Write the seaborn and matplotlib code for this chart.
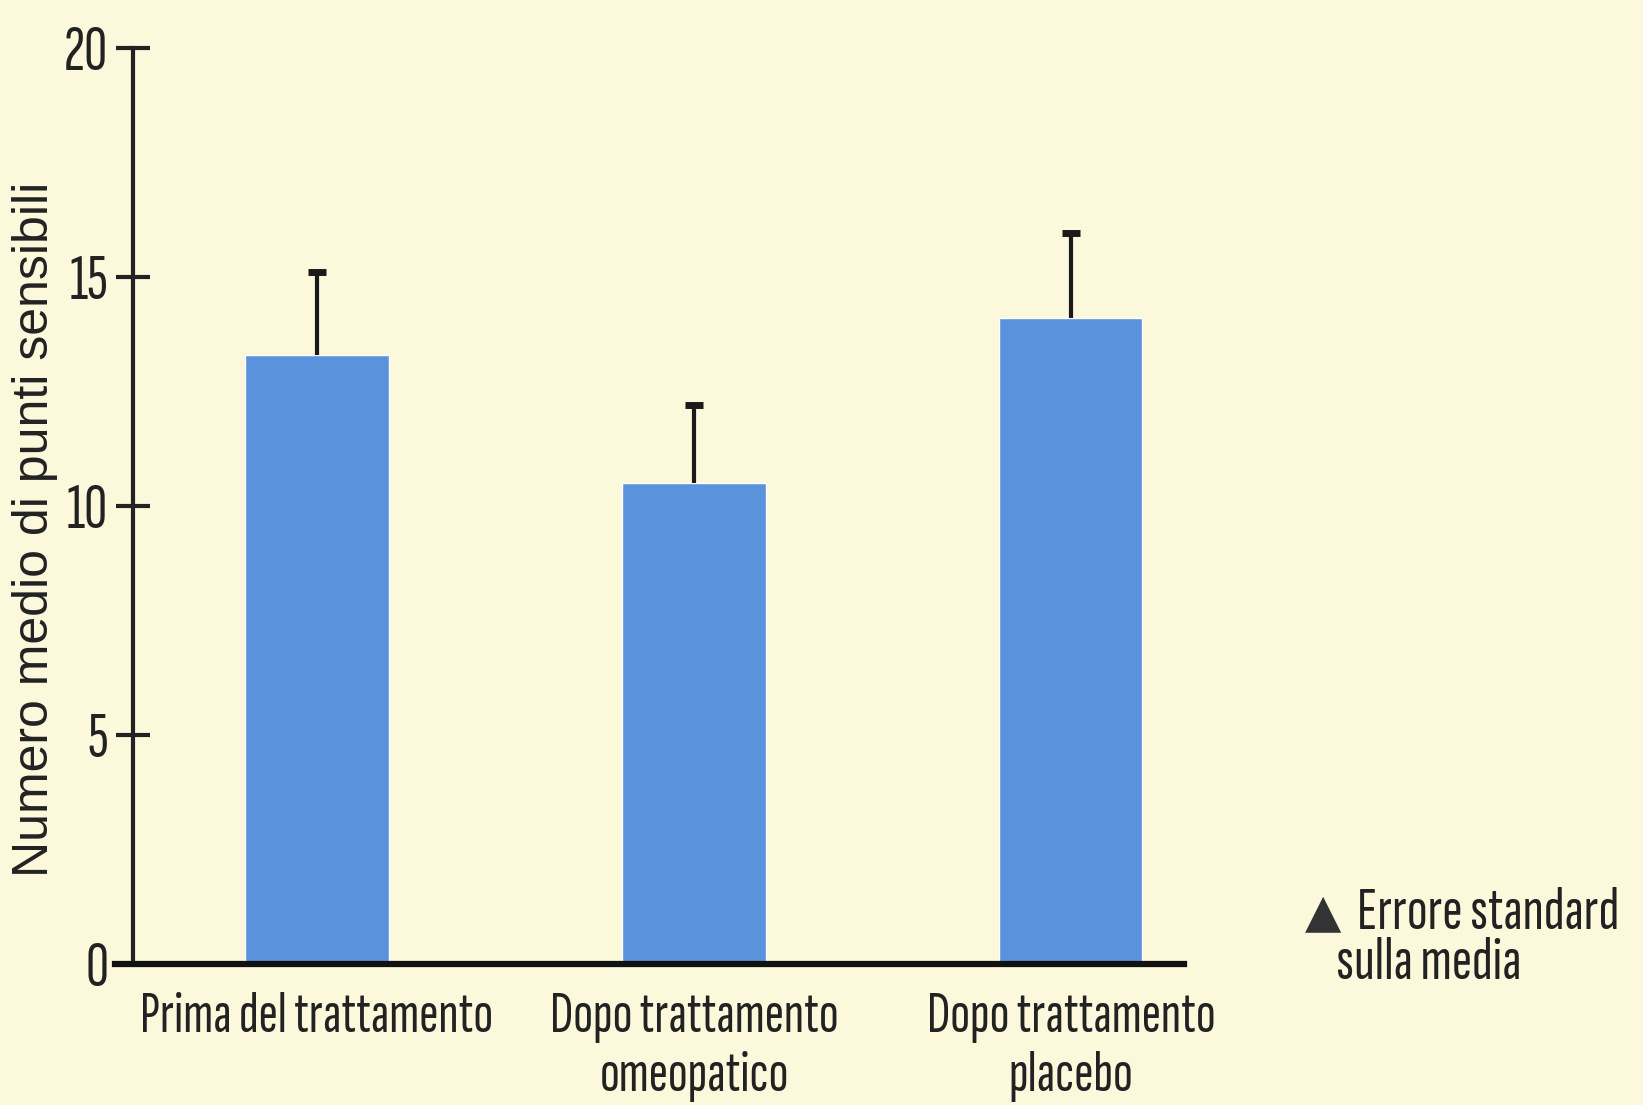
import matplotlib
matplotlib.use("Agg")
import matplotlib.pyplot as plt
import seaborn as sns
import numpy as np

categories = ["Prima del trattamento", "Dopo trattamento\nomeopatico", "Dopo trattamento\nplacebo"]
means = [13.3, 10.5, 14.1]
sem = [1.8, 1.7, 1.85]
y_ticks = [0, 5, 10, 15, 20]

BG = "#FCF8DC"
BAR = "#5A92DC"
COND = ["Sofia Sans Extra Condensed", "DejaVu Sans"]
REG = ["Liberation Sans", "DejaVu Sans"]
TXT = "#222222"

sns.set_style("ticks")
plt.rcParams['font.family'] = COND
plt.rcParams['font.weight'] = 'light'

fig = plt.figure(figsize=(16.43, 11.05), dpi=100, facecolor=BG)
ax = fig.add_axes([0.070, 0.1276, 0.7206 - 0.070, 0.957 - 0.1276])
ax.set_facecolor(BG)

sns.barplot(x=categories, y=means, color=BAR, width=0.38, ax=ax, saturation=1)
xpos = np.arange(len(means))
ax.errorbar(xpos, means, yerr=[np.zeros(len(sem)), sem],
            fmt="none", ecolor="#1a1a1a", elinewidth=3, capsize=0, zorder=5)
ax.plot(xpos, np.add(means, sem), linestyle="none", marker="_", markersize=13,
        markeredgewidth=5, color="#1a1a1a", zorder=6)

ax.set_xlim(-0.536, 2.30)
ax.set_ylim(0, 20)
ax.set_yticks(y_ticks)
ax.spines['left'].set_position(('data', -0.488))
ax.spines['left'].set_linewidth(3)
ax.spines['left'].set_color(TXT)
ax.spines['bottom'].set_linewidth(4.5)
ax.spines['bottom'].set_color("#111111")
ax.spines['top'].set_visible(False)
ax.spines['right'].set_visible(False)

ax.tick_params(axis='y', direction='inout', length=24, width=3, color=TXT,
               labelsize=46, pad=6, labelcolor=TXT)
ax.tick_params(axis='x', length=0, pad=20, labelsize=42, labelcolor=TXT)
for lab in ax.get_xticklabels():
    lab.set_linespacing(1.2)
    lab.set_verticalalignment('top')

ax.set_ylabel("Numero medio di punti sensibili", fontsize=36, color=TXT,
              family=REG, fontweight='normal')
ax.yaxis.set_label_coords(-0.053, 0.474)

fig.text(0.794, 0.173, "\u25B2", fontsize=34, color="#333333", va="center", ha="left",
         family=["DejaVu Sans"], fontweight="normal")
fig.text(0.826, 0.173, "Errore standard", fontsize=44, color=TXT, va="center", ha="left")
fig.text(0.813, 0.128, "sulla media", fontsize=44, color=TXT, va="center", ha="left")

fig.savefig("out.png", dpi=100, facecolor=BG)
